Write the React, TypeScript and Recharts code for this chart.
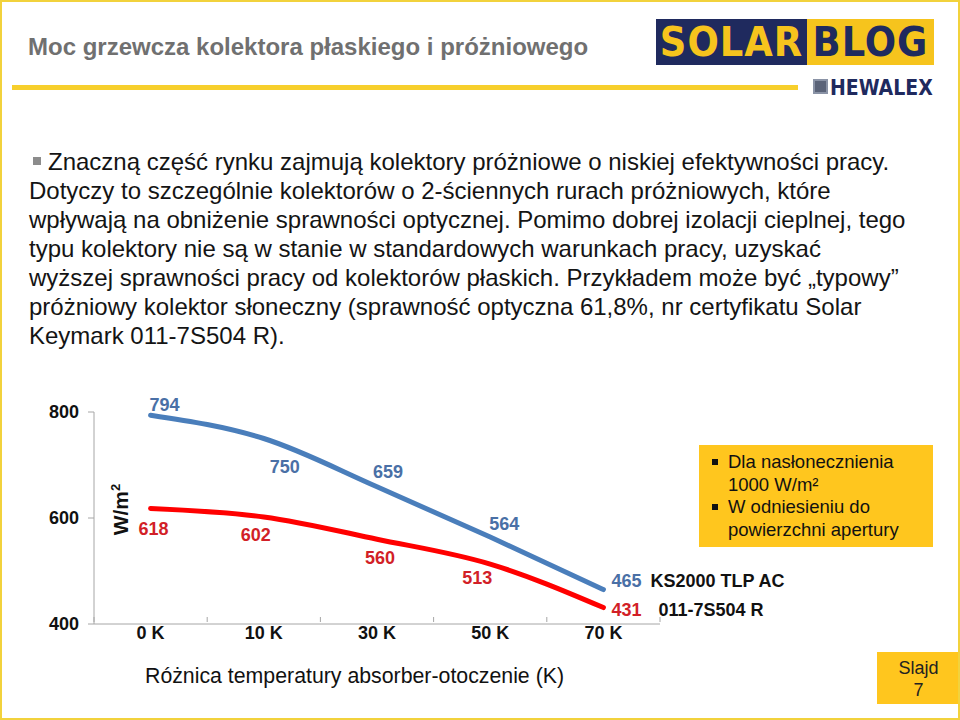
import React from 'react';
import { LineChart, Line, XAxis, YAxis, LabelList } from 'recharts';

// --- data ---
const categories = ['0 K', '10 K', '30 K', '50 K', '70 K'];
const vacuumSeries = [794, 750, 659, 564, 465]; // KS2000 TLP AC
const flatSeries = [618, 602, 560, 513, 431]; // 011-7S504 R
const seriesNames = ['KS2000 TLP AC', '011-7S504 R'];
const yTicks = [400, 600, 800];

const bulletLines = [
  'Znaczną część rynku zajmują kolektory próżniowe o niskiej efektywności pracy.',
  'Dotyczy to szczególnie kolektorów o 2-ściennych rurach próżniowych, które',
  'wpływają na obniżenie sprawności optycznej. Pomimo dobrej izolacji cieplnej, tego',
  'typu kolektory nie są w stanie w standardowych warunkach pracy, uzyskać',
  'wyższej sprawności pracy od kolektorów płaskich. Przykładem może być „typowy”',
  'próżniowy kolektor słoneczny (sprawność optyczna 61,8%, nr certyfikatu Solar',
  'Keymark 011-7S504 R).',
];

const data = categories.map((c, i) => ({ cat: c, vacuum: vacuumSeries[i], flat: flatSeries[i] }));

const BLUE = '#4a7ebb';
const BLUE_TXT = '#4a70a6';
const RED = '#ff0000';
const RED_TXT = '#d21f27';
const YELLOW = '#ffc61e';
const NAVY = '#1f2a5e';
const FONT = '"Liberation Sans", Arial, sans-serif';

// label offsets (dx, dy) from each point, roughly as placed on the slide
const blueOffsets = [[14, -10], [21, 28], [11, -15], [14, -13], [23, -9]];
const redOffsets = [[3, 21], [-8, 18], [3, 19], [-13, 14], [23, 2]];

const makeLabel = (offsets: number[][], color: string, name: string, nameDx: number) => (props: any) => {
  const { x, y, value, index } = props;
  const [dx, dy] = offsets[index];
  const last = index === categories.length - 1;
  return (
    <g>
      <text x={x + dx} y={y + dy} fill={color} fontSize={18} fontWeight="bold" fontFamily={FONT}
        textAnchor="middle" dominantBaseline="central">{value}</text>
      {last && (
        <text x={x + dx + nameDx} y={y + dy} fill="#111" fontSize={18} fontWeight="bold" fontFamily={FONT}
          textAnchor="start" dominantBaseline="central">{name}</text>
      )}
    </g>
  );
};

const XTick = (props: any) => {
  const { x, y, payload, index } = props;
  const half = payload.offset || 56.6;
  const axisY = y - 15;
  return (
    <g>
      <line x1={x - half} x2={x - half} y1={axisY} y2={axisY + 5} stroke="#a6a6a6" />
      {index === categories.length - 1 && (
        <line x1={x + half} x2={x + half} y1={axisY} y2={axisY + 5} stroke="#a6a6a6" />
      )}
      <text x={x} y={y + 7} fill="#111" fontSize={18} fontWeight="bold" fontFamily={FONT}
        textAnchor="middle">{payload.value}</text>
    </g>
  );
};

export default function App() {
  return (
    <div style={{ position: 'absolute', left: 0, top: 0, width: 960, height: 720, background: '#fff',
      border: '2px solid #f2d23c', boxSizing: 'border-box', fontFamily: FONT, overflow: 'hidden' }}>
      {/* title */}
      <div style={{ position: 'absolute', left: 26, top: 31, fontSize: 24, fontWeight: 'bold', color: '#707070',
        whiteSpace: 'nowrap' }}>
        Moc grzewcza kolektora płaskiego i próżniowego
      </div>
      <div style={{ position: 'absolute', left: 10, top: 83, width: 786, height: 5, background: '#f7cf2c' }} />

      {/* logo */}
      <div style={{ position: 'absolute', left: 654, top: 17, width: 151, height: 46, background: NAVY, color: '#f6c41d',
        fontSize: 41, fontWeight: 'bold', fontFamily: '"DejaVu Sans Condensed", "DejaVu Sans", sans-serif',
        display: 'flex', alignItems: 'center', justifyContent: 'center', letterSpacing: 1 }}>SOLAR</div>
      <div style={{ position: 'absolute', left: 805, top: 17, width: 127, height: 46, background: '#f6c41d', color: NAVY,
        fontSize: 41, fontWeight: 'bold', fontFamily: '"DejaVu Sans Condensed", "DejaVu Sans", sans-serif',
        display: 'flex', alignItems: 'center', justifyContent: 'center', letterSpacing: 1 }}>BLOG</div>
      <div style={{ position: 'absolute', left: 811, top: 77, width: 15, height: 15, background: '#5a6378',
        border: '2px solid #8a93a6', boxSizing: 'border-box' }} />
      <div style={{ position: 'absolute', left: 828, top: 74, fontSize: 21, fontWeight: 'bold', color: NAVY,
        fontFamily: '"DejaVu Sans Condensed", sans-serif' }}>HEWALEX</div>

      {/* bullet paragraph */}
      {bulletLines.map((t, i) => (
        <div key={i} style={{ position: 'absolute', left: i === 0 ? 46 : 27, top: 145 + i * 29, fontSize: 24,
          color: '#141414', whiteSpace: 'nowrap', lineHeight: '29px' }}>{t}</div>
      ))}
      <div style={{ position: 'absolute', left: 31, top: 155, width: 8, height: 8, background: '#8c8c8c' }} />

      {/* chart */}
      <div style={{ position: 'absolute', left: -2, top: 388 }}>
        <LineChart width={960} height={300} data={data} margin={{ top: 22, right: 300, bottom: 36, left: 34 }}>
          <XAxis dataKey="cat" scale="band" height={30} tickLine={false} axisLine={{ stroke: '#a6a6a6' }}
            tick={<XTick />} interval={0} />
          <YAxis domain={[400, 800]} ticks={yTicks} width={60} axisLine={{ stroke: '#a6a6a6' }}
            tickLine={{ stroke: '#a6a6a6' }} tickSize={6} tickMargin={9}
            tick={{ fill: '#111', fontSize: 18, fontWeight: 'bold', fontFamily: FONT }} />
          <Line dataKey="vacuum" type="monotone" stroke={BLUE} strokeWidth={5} dot={false} isAnimationActive={false}
            strokeLinecap="round">
            <LabelList dataKey="vacuum" content={makeLabel(blueOffsets, BLUE_TXT, seriesNames[0], 24)} />
          </Line>
          <Line dataKey="flat" type="monotone" stroke={RED} strokeWidth={5} dot={false} isAnimationActive={false}
            strokeLinecap="round">
            <LabelList dataKey="flat" content={makeLabel(redOffsets, RED_TXT, seriesNames[1], 32)} />
          </Line>
        </LineChart>
      </div>

      {/* y-axis unit */}
      <div style={{ position: 'absolute', left: 84, top: 493, transform: 'rotate(-90deg)', transformOrigin: 'center',
        fontSize: 21, fontWeight: 'bold', color: '#111', whiteSpace: 'nowrap', width: 64, textAlign: 'center',
        lineHeight: '24px' }}>
        W/m<sup style={{ fontSize: 13 }}>2</sup>
      </div>

      {/* x-axis title */}
      <div style={{ position: 'absolute', left: 143, top: 662, fontSize: 21.3, color: '#111', whiteSpace: 'nowrap' }}>
        Różnica temperatury absorber-otoczenie (K)
      </div>

      {/* note box */}
      <div style={{ position: 'absolute', left: 697, top: 443, width: 234, height: 102, background: YELLOW,
        fontSize: 18.5, color: '#111', lineHeight: '22.5px', boxSizing: 'border-box', padding: '6px 0 0 0' }}>
        {[['Dla nasłonecznienia', '1000 W/m²'], ['W odniesieniu do', 'powierzchni apertury']].map((item, i) => (
          <div key={i} style={{ position: 'relative', paddingLeft: 29 }}>
            <span style={{ position: 'absolute', left: 13, top: 8, width: 6, height: 6, background: '#111' }} />
            {item[0]}<br />{item[1]}
          </div>
        ))}
      </div>

      {/* slide number */}
      <div style={{ position: 'absolute', left: 875, top: 650, width: 83, height: 52, background: YELLOW,
        fontSize: 18, color: '#222', textAlign: 'center', lineHeight: '22px', paddingTop: 5, boxSizing: 'border-box' }}>
        Slajd<br />7
      </div>
    </div>
  );
}
